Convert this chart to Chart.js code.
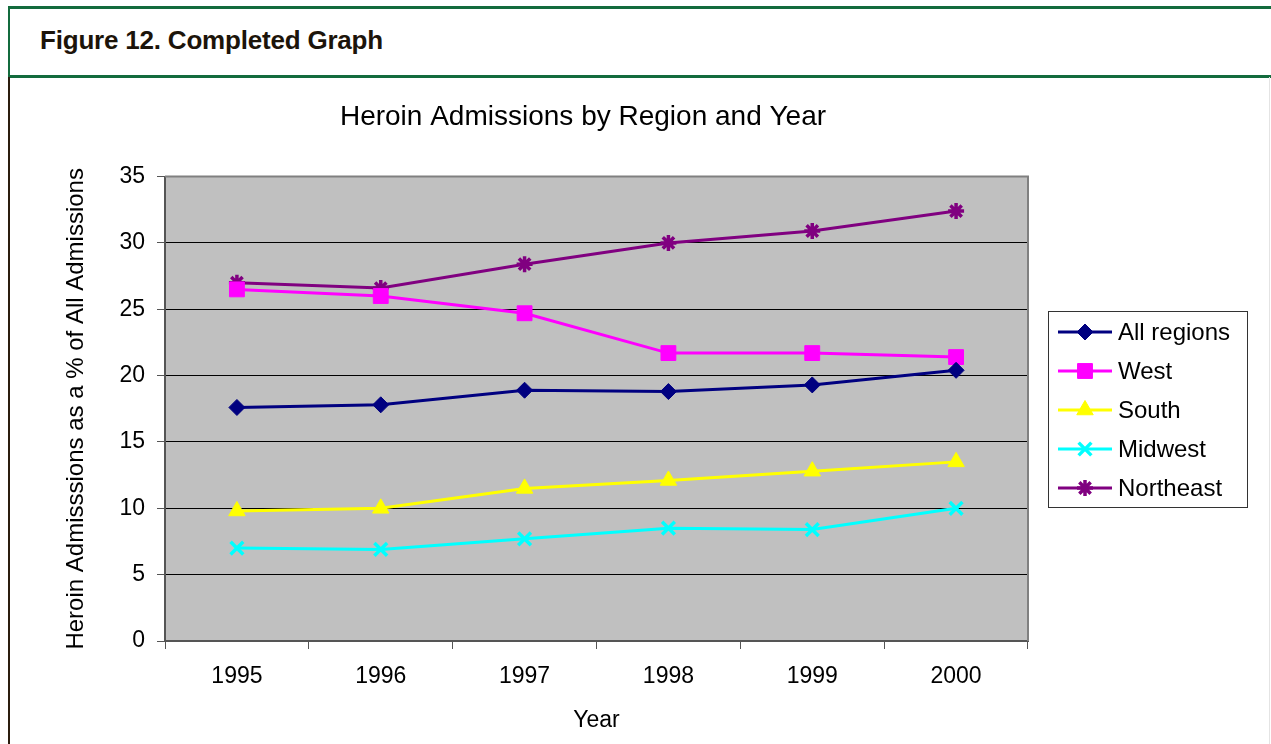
<!DOCTYPE html>
<html>
<head>
<meta charset="utf-8">
<script src="https://cdn.jsdelivr.net/npm/chart.js@4/dist/chart.umd.min.js"></script>
<style>
  html, body { margin: 0; padding: 0; background: #fff; }
  body { width: 1271px; height: 744px; position: relative; overflow: hidden;
         font-family: "Liberation Sans", Arial, sans-serif; }
  #head { position: absolute; left: 8px; top: 6px; width: 1270px; height: 66px;
          border-top: 3px solid #136b3d; border-bottom: 3px solid #136b3d; border-left: 2px solid #136b3d; }
  #head span { position: absolute; left: 30px; top: 16px; font-weight: bold; font-size: 26px;
               color: #1c140a; letter-spacing: -0.2px; }
  #leftline { position: absolute; left: 8px; top: 77px; width: 2px; height: 667px; background: #2b1d0e; }
  #rightline { position: absolute; left: 1269px; top: 77px; width: 1px; height: 667px; background: #e4e4e4; }
  #wrap { position: absolute; left: 10px; top: 78px; width: 1258px; height: 666px; }
</style>
</head>
<body>
<div id="head"><span>Figure 12. Completed Graph</span></div>
<div id="leftline"></div>
<div id="rightline"></div>
<div id="wrap"><canvas id="mainChart"></canvas></div>
<script>
var years = ['1995', '1996', '1997', '1998', '1999', '2000'];
var allRegions = [17.6, 17.8, 18.9, 18.8, 19.3, 20.4];
var west = [26.5, 26.0, 24.7, 21.7, 21.7, 21.4];
var south = [9.8, 10.0, 11.5, 12.1, 12.8, 13.5];
var midwest = [7.0, 6.9, 7.7, 8.5, 8.4, 10.0];
var northeast = [27.0, 26.6, 28.4, 30.0, 30.9, 32.4];
var yTicks = [0, 5, 10, 15, 20, 25, 30, 35];

var FONT = '"Liberation Sans", Arial, sans-serif';

function series(label, data, color, style, radius) {
    return {
        label: label,
        data: data,
        borderColor: color,
        backgroundColor: color,
        borderWidth: 3,
        pointStyle: style,
        pointRadius: radius,
        pointHoverRadius: radius,
        pointBorderColor: color,
        pointBackgroundColor: color,
        pointBorderWidth: (style == 'crossRot' || style == 'star') ? 3.5 : 1,
        tension: 0
    };
}

// grey plot background + border
var plotArea = {
    id: 'plotArea',
    beforeDraw: function(chart) {
        var a = chart.chartArea, c = chart.ctx;
        c.save();
        c.fillStyle = '#C0C0C0';
        c.fillRect(a.left, a.top, a.right - a.left, a.bottom - a.top);
        c.restore();
    },
    afterDatasetsDraw: function(chart) {
        var a = chart.chartArea, c = chart.ctx;
        c.save();
        c.strokeStyle = '#808080';
        c.lineWidth = 2;
        c.beginPath();
        c.moveTo(a.left, a.top); c.lineTo(a.right, a.top); c.lineTo(a.right, a.bottom);
        c.stroke();
        c.restore();
    }
};

// legend box with line + marker, like the spreadsheet one
var boxLegend = {
    id: 'boxLegend',
    afterDraw: function(chart) {
        var c = chart.ctx, a = chart.chartArea;
        var x0 = a.right + 20, y0 = 233, w = 199, h = 196;
        c.save();
        c.fillStyle = '#fff';
        c.fillRect(x0, y0, w, h);
        c.strokeStyle = '#333';
        c.lineWidth = 1;
        c.strokeRect(x0 + 0.5, y0 + 0.5, w, h);
        c.font = '24px ' + FONT;
        c.textBaseline = 'middle';
        chart.data.datasets.forEach(function(ds, i) {
            var y = y0 + 21 + i * 39;
            c.strokeStyle = ds.borderColor;
            c.lineWidth = 3;
            c.beginPath();
            c.moveTo(x0 + 10, y); c.lineTo(x0 + 64, y);
            c.stroke();
            c.lineWidth = ds.pointBorderWidth;
            c.fillStyle = ds.backgroundColor;
            Chart.helpers.drawPoint(c, { pointStyle: ds.pointStyle, radius: ds.pointRadius,
                borderWidth: ds.pointBorderWidth, rotation: 0 }, x0 + 37, y);
            c.fillStyle = '#000';
            c.fillText(ds.label, x0 + 70, y + 1);
        });
        c.restore();
    }
};

var ctx = document.getElementById('mainChart').getContext('2d');
var chart = new Chart(ctx, {
    type: 'line',
    data: {
        labels: years,
        datasets: [
            series('All regions', allRegions, '#000080', 'rectRot', 8),
            series('West', west, '#FF00FF', 'rect', 10.5),
            series('South', south, '#FFFF00', 'triangle', 9.5),
            series('Midwest', midwest, '#00FFFF', 'crossRot', 9),
            series('Northeast', northeast, '#800080', 'star', 8)
        ]
    },
    options: {
        responsive: true,
        maintainAspectRatio: false,
        animation: false,
        events: [],
        layout: { padding: { left: 0, right: 112, top: 0, bottom: 0 } },
        plugins: {
            legend: { display: false },
            tooltip: { enabled: false },
            title: {
                display: true,
                text: 'Heroin Admissions by Region and Year',
                color: '#000',
                font: { family: FONT, size: 28, weight: 'normal' },
                padding: { top: 22, bottom: 43 }
            }
        },
        scales: {
            x: {
                offset: true,
                grid: { offset: true, drawOnChartArea: false, drawTicks: true, tickLength: 8, tickColor: '#555' },
                border: { color: '#555', width: 2 },
                ticks: { color: '#000', font: { family: FONT, size: 23 }, padding: 14, maxRotation: 0 },
                title: { display: true, text: 'Year', color: '#000', font: { family: FONT, size: 23 }, padding: 10 },
                afterFit: function(s) { s.height = 103; }
            },
            y: {
                min: 0,
                max: 35,
                afterBuildTicks: function(s) { s.ticks = yTicks.map(function(v) { return { value: v }; }); },
                grid: {
                    color: function(c) { return (c.tick && (c.tick.value === 0 || c.tick.value === 35)) ? '#808080' : '#000'; },
                    lineWidth: 1, tickLength: 8, tickColor: '#555'
                },
                border: { color: '#555', width: 2 },
                ticks: { color: '#000', font: { family: FONT, size: 23 }, padding: 12 },
                title: {
                    display: true,
                    text: 'Heroin Admisssions as a % of All Admissions',
                    color: '#000',
                    font: { family: FONT, size: 24 },
                    padding: { top: 52, bottom: 0 }
                },
                afterFit: function(s) { s.width = 155; }
            },
            // empty right-hand space that holds the legend box
            side: {
                position: 'right',
                display: true,
                grid: { display: false },
                border: { display: false },
                ticks: { display: false },
                afterFit: function(s) { s.width = 128; }
            }
        }
    },
    plugins: [plotArea, boxLegend]
});
</script>
</body>
</html>
